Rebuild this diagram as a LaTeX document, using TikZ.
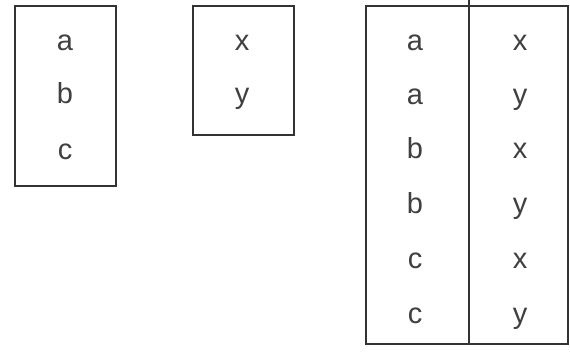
\documentclass[tikz,border=0pt]{standalone}
\usepackage{fontspec}
\setmainfont{Liberation Sans}
\begin{document}
\begin{tikzpicture}[x=1pt,y=-1pt,
  boxst/.style={draw=black!80,line width=1.8pt,inner sep=0pt,anchor=north west},
  lt/.style={font=\fontsize{29}{34}\selectfont,text=black!75,inner sep=0pt,anchor=base}]
\useasboundingbox[fill=white] (0,0) rectangle (570,357);
\node[boxst,minimum width=101pt,minimum height=180pt] (A) at (14,5) {};
\node[boxst,minimum width=101pt,minimum height=129pt] (B) at (192,5) {};
\node[boxst,minimum width=202pt,minimum height=338pt] (P) at (365,5) {};
\coordinate (mtop) at (469,0);
\coordinate (mbot) at (469,343);
\draw[black!80,line width=1.8pt] (mtop) -- (mbot);
\foreach \t/\y/\n in {a/50/a1,b/103/b1,c/159/c1}
  \node[lt] (\n) at (65,\y) {\t};
\foreach \t/\y/\n in {x/50/x1,y/103/y1}
  \node[lt] (\n) at (242,\y) {\t};
\foreach \l/\r/\y/\n in {a/x/50/1,a/y/104/2,b/x/158/3,b/y/213/4,c/x/268/5,c/y/323/6}{
  \node[lt] (L\n) at (415,\y) {\l};
  \node[lt] (R\n) at (520,\y) {\r};
}
\end{tikzpicture}
\end{document}
